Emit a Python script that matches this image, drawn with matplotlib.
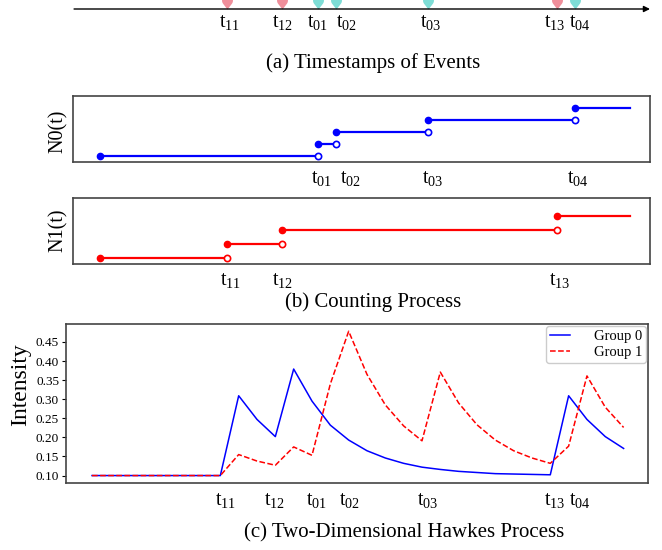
import numpy as np
import matplotlib
matplotlib.use("Agg")
from matplotlib import pyplot as plt
from matplotlib.path import Path
from matplotlib.transforms import offset_copy

plt.rcParams['font.family'] = ['Liberation Serif', 'DejaVu Serif']
plt.rcParams['mathtext.fontset'] = 'custom'
plt.rcParams['mathtext.rm'] = 'Liberation Serif'
plt.rcParams['mathtext.it'] = 'Liberation Serif:italic'

# event times (panels a and b), observation window 0..10
t_start, t_end = 0.0, 10.0
times_g0 = [4.12, 4.46, 6.20, 8.96]
times_g1 = [2.40, 3.45, 8.62]
labels_g0 = [r'$\mathrm{t}_{01}$', r'$\mathrm{t}_{02}$', r'$\mathrm{t}_{03}$', r'$\mathrm{t}_{04}$']
labels_g1 = [r'$\mathrm{t}_{11}$', r'$\mathrm{t}_{12}$', r'$\mathrm{t}_{13}$']

# intensity (panel c), sampled on an even grid
intensity_g0 = [0.100, 0.100, 0.100, 0.100, 0.100, 0.100, 0.100, 0.100,
                0.309, 0.247, 0.202, 0.379, 0.295, 0.232, 0.193, 0.165,
                0.146, 0.132, 0.122, 0.116, 0.111, 0.108, 0.105, 0.104,
                0.103, 0.102, 0.309, 0.247, 0.202, 0.171]
intensity_g1 = [0.100, 0.100, 0.100, 0.100, 0.100, 0.100, 0.100, 0.100,
                0.155, 0.138, 0.127, 0.175, 0.153, 0.340, 0.478, 0.365,
                0.285, 0.230, 0.191, 0.371, 0.290, 0.233, 0.193, 0.165,
                0.146, 0.132, 0.177, 0.361, 0.279, 0.226]
c_tick_pos = [7.3, 9.95, 12.25, 14.05, 18.3, 25.25, 26.6]
c_tick_labels = [r'$\mathrm{t}_{11}$', r'$\mathrm{t}_{12}$', r'$\mathrm{t}_{01}$', r'$\mathrm{t}_{02}$',
                 r'$\mathrm{t}_{03}$', r'$\mathrm{t}_{13}$', r'$\mathrm{t}_{04}$']
c_yticks = [0.10, 0.15, 0.20, 0.25, 0.30, 0.35, 0.40, 0.45]

# label nudges in pixels (layout only)
nudge_a_g0 = [0, 10, 2, 5]
nudge_a_g1 = [3, 0, -2]
nudge_b_g0 = [4, 14, 4, 3.5]
nudge_b_g1 = [3.5, 0, 3.5]

W, H = 662, 550
fig = plt.figure(figsize=(W / 100, H / 100), dpi=100)


def box(x0, y0, x1, y1):
    # pixel box (top-left origin) -> figure fraction
    return [x0 / W, 1 - y1 / H, (x1 - x0) / W, (y1 - y0) / H]


def ftext(x, y, s, **kw):
    fig.text(x / W, 1 - y / H, s, ha='center', va='center', **kw)


frame_col = '#444444'
pink, cyan = '#EF8F9B', '#7EDDD6'
xlim_ab = (-0.50, 10.38)
lab_fs = 14.5

# teardrop marker
d = 1.65
a = np.arccos(1 / d)
ang = np.linspace(-np.pi / 2 + a, 3 * np.pi / 2 - a, 40)
drop = Path(np.vstack([[0, -d], np.column_stack([np.cos(ang), np.sin(ang)]), [0, -d]]))

# ---------- (a) timestamps ----------
ax_a = fig.add_axes(box(73, 0, 650, 18))
ax_a.set_xlim(*xlim_ab)
ax_a.set_ylim(18, 0)
ax_a.axis('off')
ax_a.annotate('', xy=(xlim_ab[1], 9), xytext=(xlim_ab[0] + 0.02, 9),
              arrowprops=dict(arrowstyle='-|>', lw=1.0, color='black', mutation_scale=9,
                              shrinkA=0, shrinkB=0))
for t in times_g1:
    ax_a.plot(t, 0, marker=drop, ms=13, color=pink, mec='none', clip_on=False)
for t in times_g0:
    ax_a.plot(t, 0, marker=drop, ms=13, color=cyan, mec='none', clip_on=False)
for t, s, dx in zip(times_g1 + times_g0, labels_g1 + labels_g0, nudge_a_g1 + nudge_a_g0):
    tr = offset_copy(ax_a.transData, fig=fig, x=dx, y=0, units='dots')
    ax_a.text(t, 23, s, ha='center', va='center', fontsize=lab_fs, clip_on=False, transform=tr)
ftext(373, 63, '(a) Timestamps of Events', fontsize=15)


# ---------- (b) counting processes ----------
def counting(ax, events, labels, nudges, color, ylim, label_dy):
    edges = [t_start] + events + [t_end]
    for k in range(len(edges) - 1):
        ax.plot([edges[k], edges[k + 1]], [k, k], color=color, lw=1.6)
        ax.plot(edges[k], k, 'o', color=color, ms=4.5)
        if k < len(edges) - 2:
            ax.plot(edges[k + 1], k, 'o', mfc='white', mec=color, mew=1.2, ms=4.5)
    ax.set_xlim(*xlim_ab)
    ax.set_ylim(*ylim)
    ax.set_xticks([])
    ax.set_yticks([])
    for t, s, dx in zip(events, labels, nudges):
        tr = offset_copy(ax.get_xaxis_transform(), fig=fig, x=dx, y=-label_dy, units='dots')
        ax.text(t, 0, s, ha='center', va='center', fontsize=lab_fs, transform=tr)
    for sp in ax.spines.values():
        sp.set_color(frame_col)
        sp.set_linewidth(1.2)


ax_b0 = fig.add_axes(box(73, 96, 650, 162))
counting(ax_b0, times_g0, labels_g0, nudge_b_g0, '#0000FF', (-0.47, 5.0), 16)
ftext(58, 131, 'N0(t)', fontsize=14.5, rotation=90)

ax_b1 = fig.add_axes(box(73, 198, 650, 264))
counting(ax_b1, times_g1, labels_g1, nudge_b_g1, '#FF0000', (-0.43, 4.3), 16)
ftext(58, 230, 'N1(t)', fontsize=14.5, rotation=90)
ftext(373, 302, '(b) Counting Process', fontsize=15)

# ---------- (c) Hawkes intensity ----------
ax_c = fig.add_axes(box(66, 324, 648, 483))
grid = np.arange(len(intensity_g0))
ax_c.plot(grid, intensity_g0, color='#0000FF', lw=1.1, label='Group 0')
ax_c.plot(grid, intensity_g1, color='#FF0000', lw=1.1, ls='--', label='Group 1')
ax_c.set_xlim(-1.42, 30.33)
ax_c.set_ylim(0.0805, 0.497)
ax_c.set_yticks(c_yticks, ['%.2f' % v for v in c_yticks])
ax_c.tick_params(axis='y', length=3, width=0.8, labelsize=9.5, pad=2)
ax_c.set_xticks(c_tick_pos, c_tick_labels)
ax_c.tick_params(axis='x', length=0, pad=6, labelsize=lab_fs)
for sp in ax_c.spines.values():
    sp.set_color(frame_col)
    sp.set_linewidth(1.2)
ax_c.legend(loc='upper right', fontsize=10.5, handlelength=1.4, handletextpad=1.6,
            borderaxespad=0.15, labelspacing=0.2, borderpad=0.25, framealpha=1,
            edgecolor='#cccccc')
ftext(21, 385, 'Intensity', fontsize=17, rotation=90)
ftext(404, 533, '(c) Two-Dimensional Hawkes Process', fontsize=15)

fig.savefig('out.png', dpi=100)
